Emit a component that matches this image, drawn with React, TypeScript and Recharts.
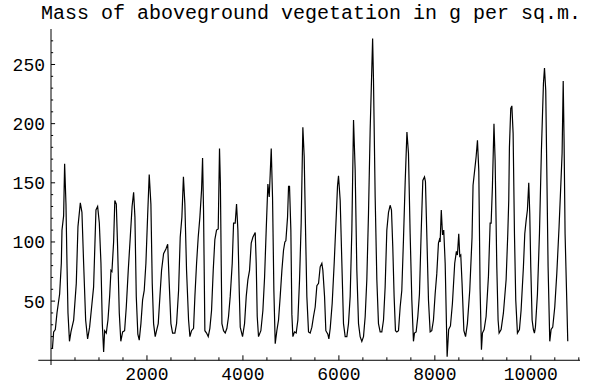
import { LineChart, Line, XAxis, YAxis, ReferenceLine } from "recharts";

// days since start of the simulation
const days = [
  30, 55, 90, 125, 180, 215, 229, 263, 284, 312, 333, 354, 385,
  416, 472, 527, 562, 611, 645, 680, 722, 763,
  805, 854, 888, 937, 972, 1007, 1041, 1069, 1097,
  1118, 1152, 1187, 1222, 1250, 1270, 1305, 1330, 1361, 1388, 1423, 1455,
  1493, 1534, 1569, 1610, 1652, 1690, 1722, 1749, 1777, 1810, 1839,
  1874, 1909, 1943, 1978, 2013, 2047, 2082, 2110, 2138, 2172,
  2200, 2235, 2270, 2304, 2346, 2395, 2432, 2464, 2499, 2534, 2582,
  2617, 2659, 2693, 2728, 2760, 2790, 2825, 2867, 2895, 2929, 2971,
  2999, 3034, 3068, 3103, 3138, 3159, 3179, 3207, 3242, 3277,
  3311, 3346, 3381, 3415, 3450, 3485, 3512, 3530, 3548, 3562, 3596, 3631, 3666,
  3700, 3735, 3777, 3805, 3839, 3867, 3895, 3923, 3944, 3992,
  4034, 4069, 4103, 4138, 4173, 4207, 4256, 4277, 4298, 4325,
  4374, 4416, 4451, 4485, 4520, 4548, 4569, 4590, 4617, 4645, 4673,
  4707, 4742, 4777, 4812, 4846, 4874, 4895, 4930, 4951, 4971, 4999, 5020, 5041,
  5075, 5110, 5145, 5180, 5214, 5249, 5277, 5305, 5332, 5367, 5402,
  5437, 5471, 5506, 5541, 5576, 5610, 5645, 5666, 5701, 5728, 5770, 5791,
  5819, 5860, 5902, 5944, 5971, 5992, 6027, 6062, 6096, 6131, 6166,
  6200, 6235, 6270, 6305, 6339, 6374, 6409, 6443, 6478,
  6513, 6548, 6582, 6617, 6652, 6703, 6721, 6756, 6791, 6825, 6860,
  6895, 6930, 6964, 6999, 7034, 7068, 7096, 7123, 7151, 7179, 7207,
  7242, 7277, 7311, 7346, 7381, 7418, 7450, 7485, 7520, 7554,
  7575, 7610, 7645, 7679, 7714, 7749, 7784, 7804, 7832, 7867, 7902,
  7936, 7971, 8006, 8040, 8075, 8096, 8110, 8134, 8160, 8185, 8215, 8256,
  8288, 8325, 8366, 8414, 8449, 8470, 8498, 8519, 8540, 8567, 8605, 8640,
  8678, 8727, 8775, 8796, 8831, 8860, 8888, 8916, 8943, 8971,
  8992, 9027, 9068, 9117, 9152, 9173, 9200, 9232, 9256, 9291, 9318, 9339,
  9381, 9429, 9485, 9520, 9540, 9554, 9582, 9605, 9631, 9659, 9686, 9721,
  9763, 9797, 9846, 9874, 9902, 9929, 9957, 9978, 9999, 10027, 10054, 10075,
  10096, 10138, 10180, 10221, 10263, 10285, 10311, 10332, 10360, 10395,
  10423, 10457, 10499, 10541, 10589, 10624, 10652, 10675, 10693, 10714, 10749, 10770,
];

// aboveground vegetation mass, g per sq.m.
const mass = [
  10, 24, 26, 40, 56, 82, 110, 122, 166, 132, 82, 40, 16,
  24, 34, 65, 113, 133, 125, 82, 34, 18,
  28, 48, 62, 127, 130, 116, 82, 31, 7,
  25, 23, 34, 54, 76, 75, 100, 135, 132, 96, 40, 16,
  24, 25, 45, 76, 104, 130, 142, 121, 54, 22, 17,
  31, 51, 59, 82, 121, 157, 132, 65, 31, 20,
  25, 31, 54, 76, 90, 94, 98, 65, 31, 23, 23,
  31, 59, 104, 121, 155, 132, 76, 34, 20, 25, 27,
  54, 82, 104, 121, 144, 171, 127, 25, 23, 20,
  27, 42, 76, 102, 110, 111, 179, 150, 80, 31, 25, 23, 27,
  37, 54, 82, 116, 116, 132, 110, 59, 28, 20,
  31, 54, 68, 76, 99, 104, 108, 82, 37, 20,
  25, 42, 70, 110, 149, 138, 158, 179, 138, 59, 14,
  25, 34, 54, 76, 93, 100, 101, 121, 147, 147, 110, 39, 20,
  24, 23, 34, 68, 116, 197, 172, 110, 54, 24, 23,
  28, 37, 45, 63, 65, 79, 82, 76, 54, 25, 22, 18,
  27, 48, 82, 121, 147, 156, 135, 82, 31, 20, 20,
  31, 54, 110, 203, 161, 76, 31, 20, 16,
  20, 37, 68, 124, 195, 272, 237, 138, 68, 31, 24,
  24, 34, 62, 110, 125, 131, 127, 96, 54, 25, 24,
  25, 45, 59, 102, 150, 193, 175, 107, 51, 16,
  23, 24, 37, 56, 107, 152, 155, 151, 107, 51, 24,
  25, 34, 56, 73, 99, 102, 100, 127, 106, 110, 82, 3,
  26, 29, 48, 82, 92, 89, 107, 88, 89, 65, 25, 20,
  31, 59, 104, 148, 161, 172, 186, 160, 60, 9,
  23, 26, 37, 71, 116, 116, 147, 200, 169, 79, 34, 23,
  26, 40, 68, 107, 135, 180, 213, 215, 192, 107, 51, 23,
  26, 42, 79, 107, 118, 127, 150, 124, 79, 34, 26, 23,
  28, 56, 107, 178, 234, 247, 228, 164, 79, 16,
  26, 28, 45, 73, 113, 147, 175, 236, 186, 107, 51, 16,
];

const xTicks = [2000, 4000, 6000, 8000, 10000];
const xMinorTicks = [
  500, 1000, 1500, 2500, 3000, 3500, 4500, 5000, 5500, 6500, 7000, 7500,
  8500, 9000, 9500, 10500, 11000,
];
const yTicks = [50, 100, 150, 200, 250];
const yMinorTicks = [
  10, 20, 30, 40, 60, 70, 80, 90, 110, 120, 130, 140, 160, 170, 180, 190,
  210, 220, 230, 240, 260, 270,
];

const data = days.map((d, i) => ({ day: d, mass: mass[i] }));

const FONT = "'Liberation Mono', 'DejaVu Sans Mono', monospace";
const tickStyle = { fill: "#000", fontSize: 18, fontFamily: FONT };

export default function App() {
  return (
    <div
      style={{
        position: "absolute",
        left: 0,
        top: 0,
        width: 589,
        height: 384,
        background: "#fff",
      }}
    >
      <div
        style={{
          position: "absolute",
          left: 38,
          top: 2,
          width: 546,
          textAlign: "center",
          fontFamily: FONT,
          fontSize: 20,
          color: "#000",
          whiteSpace: "nowrap",
        }}
      >
        Mass of aboveground vegetation in g per sq.m.
      </div>
      <LineChart
        width={589}
        height={384}
        data={data}
        margin={{ top: 29, right: 9, bottom: 0, left: 11 }}
      >
        <XAxis
          dataKey="day"
          type="number"
          domain={[0, 11025]}
          ticks={xTicks}
          axisLine={false}
          tickLine={false}
          tickSize={0}
          tickMargin={2}
          height={19}
          tick={tickStyle}
          allowDataOverflow
        />
        <YAxis
          type="number"
          domain={[-4, 280]}
          ticks={yTicks}
          width={40}
          tickLine={false}
          tickSize={0}
          tickMargin={6}
          axisLine={{ stroke: "#000" }}
          tick={tickStyle}
          allowDataOverflow
        />
        <ReferenceLine
          segment={[
            { x: -265, y: 0 },
            { x: 11025, y: 0 },
          ]}
          stroke="#000"
          ifOverflow="visible"
        />
        {yTicks.map((v) => (
          <ReferenceLine
            key={"ym" + v}
            segment={[
              { x: 0, y: v },
              { x: 85, y: v },
            ]}
            stroke="#000"
            ifOverflow="visible"
          />
        ))}
        {yMinorTicks.map((v) => (
          <ReferenceLine
            key={"yn" + v}
            segment={[
              { x: 0, y: v },
              { x: 45, y: v },
            ]}
            stroke="#000"
            ifOverflow="visible"
          />
        ))}
        {xTicks.map((v) => (
          <ReferenceLine
            key={"xm" + v}
            segment={[
              { x: v, y: 0 },
              { x: v, y: 4.2 },
            ]}
            stroke="#000"
            ifOverflow="visible"
          />
        ))}
        {xMinorTicks.map((v) => (
          <ReferenceLine
            key={"xn" + v}
            segment={[
              { x: v, y: 0 },
              { x: v, y: 2.5 },
            ]}
            stroke="#000"
            ifOverflow="visible"
          />
        ))}
        <Line
          type="linear"
          dataKey="mass"
          stroke="#000"
          strokeWidth={1.2}
          dot={false}
          isAnimationActive={false}
        />
      </LineChart>
    </div>
  );
}
